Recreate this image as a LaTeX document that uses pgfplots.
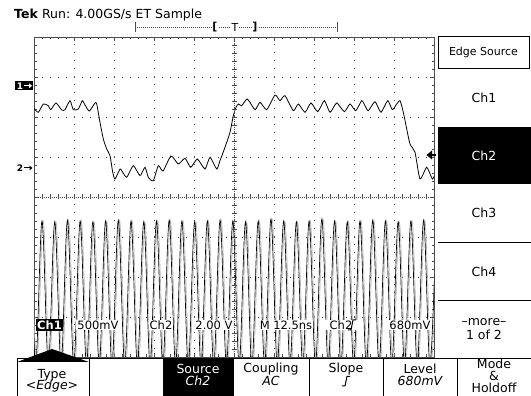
\documentclass[border=0pt]{standalone}
\usepackage{fontspec}
\setmainfont{DejaVu Sans}
\usepackage{pgfplots}
\pgfplotsset{compat=1.18}
\usepackage{pgfplotstable}

\pgfplotstableread{
x y
0.000 2.218
0.108 2.118
0.233 2.325
0.358 2.283
0.418 2.183
0.550 2.350
0.693 2.175
0.775 2.183
0.900 2.408
0.983 2.183
1.108 2.200
1.208 2.408
1.275 2.300
1.383 2.150
1.525 2.350
1.568 2.325
1.650 1.868
1.733 1.450
1.818 1.200
1.900 1.033
1.968 0.618
2.025 0.450
2.150 0.700
2.193 0.658
2.318 0.493
2.483 0.783
2.650 0.533
2.775 0.743
2.858 0.493
2.983 0.408
3.108 0.783
3.225 0.650
3.425 1.025
3.608 0.825
3.775 0.968
3.918 0.743
4.083 0.950
4.275 0.700
4.400 0.993
4.568 0.700
4.650 0.908
4.775 1.243
4.900 1.618
4.983 2.033
5.050 2.243
5.108 2.325
5.193 2.283
5.333 2.450
5.525 2.183
5.650 2.368
5.818 2.183
6.025 2.550
6.150 2.408
6.275 2.533
6.483 2.158
6.608 2.325
6.775 2.118
6.925 2.350
7.093 2.133
7.258 2.408
7.400 2.118
7.568 2.350
7.758 2.133
7.900 2.325
8.043 2.158
8.193 2.408
8.275 2.283
8.358 2.158
8.525 2.383
8.675 2.118
8.843 2.408
8.958 2.183
9.068 2.325
9.150 2.408
9.233 2.118
9.318 1.700
9.400 1.325
9.525 1.118
9.650 0.450
9.818 0.743
9.958 0.450
10.025 0.575
}\chone

\pgfplotstableread{
x y
-0.118 -0.60
0.041 -4.20
0.200 -0.60
0.359 -4.20
0.518 -0.62
0.677 -4.20
0.836 -0.58
0.995 -4.20
1.154 -0.60
1.313 -4.20
1.472 -0.62
1.631 -4.20
1.790 -0.60
1.949 -4.20
2.108 -0.58
2.267 -4.20
2.426 -0.60
2.585 -4.20
2.744 -0.62
2.903 -4.20
3.062 -0.60
3.221 -4.20
3.380 -0.58
3.539 -4.20
3.698 -0.60
3.857 -4.20
4.016 -0.62
4.175 -4.20
4.334 -0.60
4.493 -4.20
4.652 -0.58
4.811 -4.20
4.970 -0.60
5.129 -4.20
5.288 -0.62
5.447 -4.20
5.606 -0.60
5.765 -4.20
5.924 -0.55
6.083 -4.20
6.242 -0.60
6.401 -4.20
6.560 -0.62
6.719 -4.20
6.878 -0.60
7.037 -4.20
7.196 -0.55
7.355 -4.20
7.514 -0.60
7.673 -4.20
7.832 -0.62
7.991 -4.20
8.150 -0.60
8.309 -4.20
8.468 -0.58
8.627 -4.20
8.786 -0.60
8.945 -4.20
9.104 -0.62
9.263 -4.20
9.422 -0.60
9.581 -4.20
9.740 -0.58
9.899 -4.20
10.058 -0.60
}\chtwo

\colorlet{grat}{black!70}
\newcommand{\fs}[1]{\fontsize{#1}{#1}\selectfont}

\begin{document}
\begin{tikzpicture}
\path[use as bounding box, fill=white] (0,0) rectangle (531pt,396pt);
\begin{axis}[
  at={(34pt,39pt)}, anchor=south west,
  scale only axis, width=400pt, height=320pt,
  xmin=0, xmax=10, ymin=-4, ymax=4,
  xtick={0,...,10}, ytick={-4,...,4},
  minor x tick num=4, minor y tick num=4,
  xticklabels={}, yticklabels={},
  tick align=inside, tick pos=both,
  major tick length=4pt, minor tick length=2.5pt,
  every tick/.style={grat, line width=0.5pt},
  grid=major,
  major grid style={grat, line width=0.8pt, dash pattern=on 0.8pt off 7.2pt},
  axis line style={grat, line width=0.7pt},
  clip mode=individual,
]
\addplot[gray!60, line width=0.6pt, smooth, tension=0.55] table[x expr=\thisrow{x}+0.03, y=y] {\chtwo};
\addplot[black, line width=0.65pt, smooth, tension=0.55] table[x=x, y=y] {\chtwo};
\addplot[black, line width=0.8pt, smooth, tension=0.35] table[x=x, y=y] {\chone};
\end{axis}

\begin{scope}[shift={(0pt,396pt)}, x=1pt, y=-1pt]
  % centre lines with cross ticks
  \draw[grat, line width=0.5pt, dash pattern=on 0.6pt off 1.4pt] (234,37) -- (234,357);
  \draw[grat, line width=0.5pt, dash pattern=on 0.6pt off 1.4pt] (34,197) -- (434,197);
  \foreach \py in {37,45,...,357} \draw[grat, line width=0.5pt] (231.5,\py) -- (236.5,\py);
  \foreach \px in {34,42,...,434} \draw[grat, line width=0.5pt] (\px,194.5) -- (\px,199.5);

  % title
  \node[anchor=base west, inner sep=0pt, font=\fs{12.5}] at (14,19) {\textbf{Tek} Run: 4.00GS/s ET Sample};

  % trigger position indicator
  \draw[grat, line width=0.5pt, dash pattern=on 0.6pt off 1.4pt] (135,27) -- (337,27);
  \draw[grat, line width=0.5pt] (135,22) -- (135,32) (337,22) -- (337,32);
  \node[fill=white, inner sep=0.5pt, font=\fs{11}\bfseries] at (215,27) {[};
  \node[fill=white, inner sep=0.5pt, font=\fs{11}] at (235,27) {T};
  \node[fill=white, inner sep=0.5pt, font=\fs{11}\bfseries] at (255,27) {]};

  % channel markers
  \fill[black] (15,81) rectangle (33,90.5);
  \node[text=white, font=\fs{9}\bfseries, inner sep=0pt] at (20,85.8) {1};
  \draw[white, line width=1pt] (24,85.8) -- (30,85.8);
  \fill[white] (32,85.8) -- (29,83.3) -- (29,88.3) -- cycle;
  \node[font=\fs{9}\bfseries, inner sep=0pt] at (20,168) {2};
  \draw[black, line width=1pt] (24,168) -- (30,168);
  \fill[black] (32.5,168) -- (29.5,165.5) -- (29.5,170.5) -- cycle;

  % trigger level arrow
  \fill[black] (426.5,155) -- (432,150.5) -- (432,159.5) -- cycle;
  \draw[black, line width=1.3pt] (431,155) -- (436,155);

  % readout
  \node[fill=black, text=white, inner sep=1.2pt, font=\fs{11.5}\bfseries] at (49.5,325) {Ch1};
  \node[fill=white, inner sep=1pt, font=\fs{11.5}] at (98,325) {500mV};
  \node[fill=white, inner sep=1pt, font=\fs{11.5}] at (161,325) {Ch2};
  \node[fill=white, inner sep=1pt, font=\fs{11.5}] at (214,325) {2.00 V};
  \node[fill=white, inner sep=1pt, font=\fs{11.5}] at (286,325) {M 12.5ns};
  \node[fill=white, inner sep=1pt, font=\fs{11.5}, minimum width=36pt] at (341,325) {Ch2\hspace{12pt}};
  \draw[black, line width=1pt] (348,330) -- (351,330) -- (353,320) -- (356,320);
  \node[fill=white, inner sep=1pt, font=\fs{11.5}] at (410,325) {680mV};

  % right menu
  \draw[black, line width=0.9pt] (438,36.5) rectangle (529,68);
  \node[font=\fs{11}] at (483.5,52.5) {Edge Source};
  \node[font=\fs{12.5}] at (484,98) {Ch1};
  \fill[black] (438,127) rectangle (531,184);
  \node[text=white, font=\fs{12.5}] at (484,156) {Ch2};
  \node[font=\fs{12.5}] at (484,213) {Ch3};
  \draw[black, line width=1pt] (438,243) -- (531,243);
  \node[font=\fs{12.5}] at (484,272) {Ch4};
  \draw[black, line width=1pt] (438,301) -- (531,301);
  \node[font=\fs{12.5}] at (484,322.5) {–more–};
  \node[font=\fs{12.5}] at (484,334.5) {1 of 2};

  % bottom menu
  \fill[white] (0,358) rectangle (531,396);
  \fill[black] (163,358) rectangle (233,396);
  \draw[black, line width=1pt] (17,358.5) -- (531,358.5);
  \foreach \px in {17,89,233,309,383,457} \draw[black, line width=1pt] (\px,358) -- (\px,396);
  \fill[black] (17,362) -- (52,349) -- (89,362) -- cycle;
  \node[font=\fs{12.5}] at (52,375) {Type};
  \node[font=\fs{12.5}\itshape] at (52,386.5) {<Edge>};
  \node[text=white, font=\fs{12.5}] at (198,369) {Source};
  \node[text=white, font=\fs{12.5}\itshape] at (198,381) {Ch2};
  \node[font=\fs{12.5}] at (271,369) {Coupling};
  \node[font=\fs{12.5}\itshape] at (271,381) {AC};
  \node[font=\fs{12.5}] at (346,369) {Slope};
  \draw[black, line width=1pt] (342,386) -- (345,386) -- (347,376.5) -- (350,376.5);
  \node[font=\fs{12.5}] at (420,369) {Level};
  \node[font=\fs{12.5}\itshape] at (420,381) {680mV};
  \node[font=\fs{12.5}] at (494,363.5) {Mode};
  \node[font=\fs{12.5}] at (494,375.5) {\&};
  \node[font=\fs{12.5}] at (494,387.5) {Holdoff};
\end{scope}
\end{tikzpicture}
\end{document}
